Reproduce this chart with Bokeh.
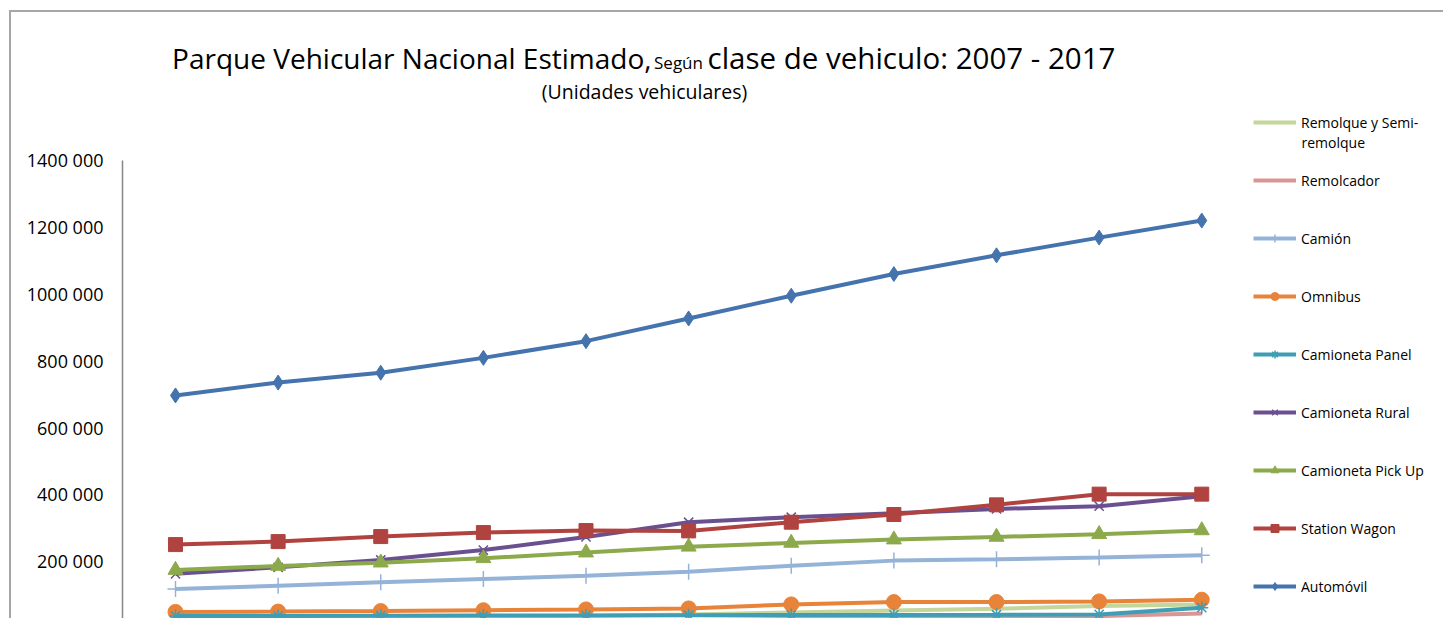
from bokeh.plotting import figure
from bokeh.models import Range1d, FixedTicker, Legend, LegendItem, Label, Spacer
from bokeh.layouts import column, row
from bokeh.embed import file_html
from bokeh.resources import INLINE

years = [2007, 2008, 2009, 2010, 2011, 2012, 2013, 2014, 2015, 2016, 2017]

series_names = ["Remolque y Semi-", "Remolcador", "Camión", "Omnibus",
                "Camioneta Panel", "Camioneta Rural", "Camioneta Pick Up",
                "Station Wagon", "Automóvil"]
name_continuation = "remolque"

remolque = [27000, 29000, 31000, 34000, 37000, 41000, 47000, 53000, 58000, 66000, 71000]
remolcador = [15000, 16000, 17500, 19000, 21000, 24000, 27000, 29000, 32000, 36000, 44000]
camion = [117000, 127000, 137000, 147000, 156600, 168500, 187000, 202000, 206000, 211000, 218000]
omnibus = [48500, 49500, 51000, 53500, 56000, 59000, 71000, 78000, 78000, 80000, 85000]
panel = [36000, 36500, 37000, 37500, 38000, 38500, 39000, 39500, 40000, 41000, 61000]
rural = [162500, 182000, 204000, 233500, 273000, 317000, 332000, 344000, 356700, 365000, 395000]
pickup = [174000, 186000, 196000, 209000, 226000, 243500, 255000, 265000, 273000, 281000, 292500]
station_wagon = [250000, 259000, 274000, 286000, 292000, 291000, 317000, 340000, 369000, 401000, 401000]
automovil = [696600, 735000, 764500, 809000, 859000, 927000, 995000, 1060000, 1116000, 1169000, 1220000]

y_ticks = [200000, 400000, 600000, 800000, 1000000, 1200000, 1400000]
y_tick_labels = ["200 000", "400 000", "600 000", "800 000", "1000 000", "1200 000", "1400 000"]

title_left = "Parque Vehicular Nacional Estimado,"
title_mid = "Según"
title_right = "clase de vehiculo: 2007 - 2017"
subtitle = "(Unidades vehiculares)"

data = [remolque, remolcador, camion, omnibus, panel, rural, pickup, station_wagon, automovil]
colors = ["#C3D69B", "#D99694", "#95B3D7", "#E8833A", "#3F9DB5", "#6A5090",
          "#8CAA4B", "#B0433F", "#4573AD"]
markers = [None, None, "cross", "circle", "asterisk", "x", "triangle", "square", "diamond"]
marker_sizes = [0, 0, 16, 15, 13, 13, 15, 14, 15]

FONT = "Open Sans"

p = figure(width=1434, height=608, output_backend="svg", toolbar_location=None,
           x_axis_location=None,
           x_range=Range1d(2006.4836, 2019.375), y_range=Range1d(22750, 1842900),
           min_border_left=111, min_border_right=0, min_border_top=0, min_border_bottom=0)
p.styles = {"border-left": "2px solid #A6A6A6", "border-top": "2px solid #A6A6A6"}
p.outline_line_color = None
p.xgrid.visible = False
p.ygrid.visible = False

yax = p.yaxis[0]
yax.ticker = FixedTicker(ticks=y_ticks)
yax.major_label_overrides = {t: l for t, l in zip(y_ticks, y_tick_labels)}
yax.bounds = (0, 1400000)
yax.axis_line_color = "#868686"
yax.axis_line_width = 1.5
yax.major_tick_line_color = None
yax.minor_tick_line_color = None
yax.major_tick_out = 0
yax.major_label_standoff = 19
yax.major_label_text_font = FONT
yax.major_label_text_font_size = "18px"
yax.major_label_text_color = "#000000"

items = []
for name, vals, col, mk, ms in zip(series_names, data, colors, markers, marker_sizes):
    rs = [p.line(years, vals, line_color=col, line_width=4)]
    if mk is not None:
        if mk in ("cross", "asterisk", "x"):
            rs.append(p.scatter(years, vals, marker=mk, size=ms, line_color=col, line_width=1.5,
                                fill_color=None))
        else:
            rs.append(p.scatter(years, vals, marker=mk, size=ms, line_color=col, fill_color=col))
    items.append(LegendItem(label=name, renderers=rs))

legend = Legend(items=items, location=(1131, 24), padding=0, margin=0,
                glyph_width=43, glyph_height=20, label_height=20, label_standoff=5,
                spacing=38, label_text_font=FONT, label_text_font_size="14px",
                label_text_color="#000000",
                background_fill_alpha=0, border_line_color=None)
p.add_layout(legend, "center")

p.add_layout(Label(x=1179, y=478, x_units="screen", y_units="screen", text=name_continuation,
                   text_align="left", text_baseline="middle", text_font=FONT,
                   text_font_size="14px", text_color="#000000"))

p.add_layout(Label(x=529, y=563, x_units="screen", y_units="screen", text=title_left,
                   text_align="right", text_baseline="alphabetic", text_font=FONT,
                   text_font_size="28px", text_color="#000000"))
p.add_layout(Label(x=556, y=558, x_units="screen", y_units="screen", text=title_mid,
                   text_align="center", text_baseline="alphabetic", text_font=FONT,
                   text_font_size="17px", text_color="#000000"))
p.add_layout(Label(x=585, y=563, x_units="screen", y_units="screen", text=title_right,
                   text_align="left", text_baseline="alphabetic", text_font=FONT,
                   text_font_size="29.5px", text_color="#000000"))
p.add_layout(Label(x=522, y=529, x_units="screen", y_units="screen", text=subtitle,
                   text_align="center", text_baseline="alphabetic", text_font=FONT,
                   text_font_size="19.5px", text_color="#000000"))

layout = column(Spacer(height=10), row(Spacer(width=9), p))
open("out.html", "w").write(file_html(layout, INLINE))
